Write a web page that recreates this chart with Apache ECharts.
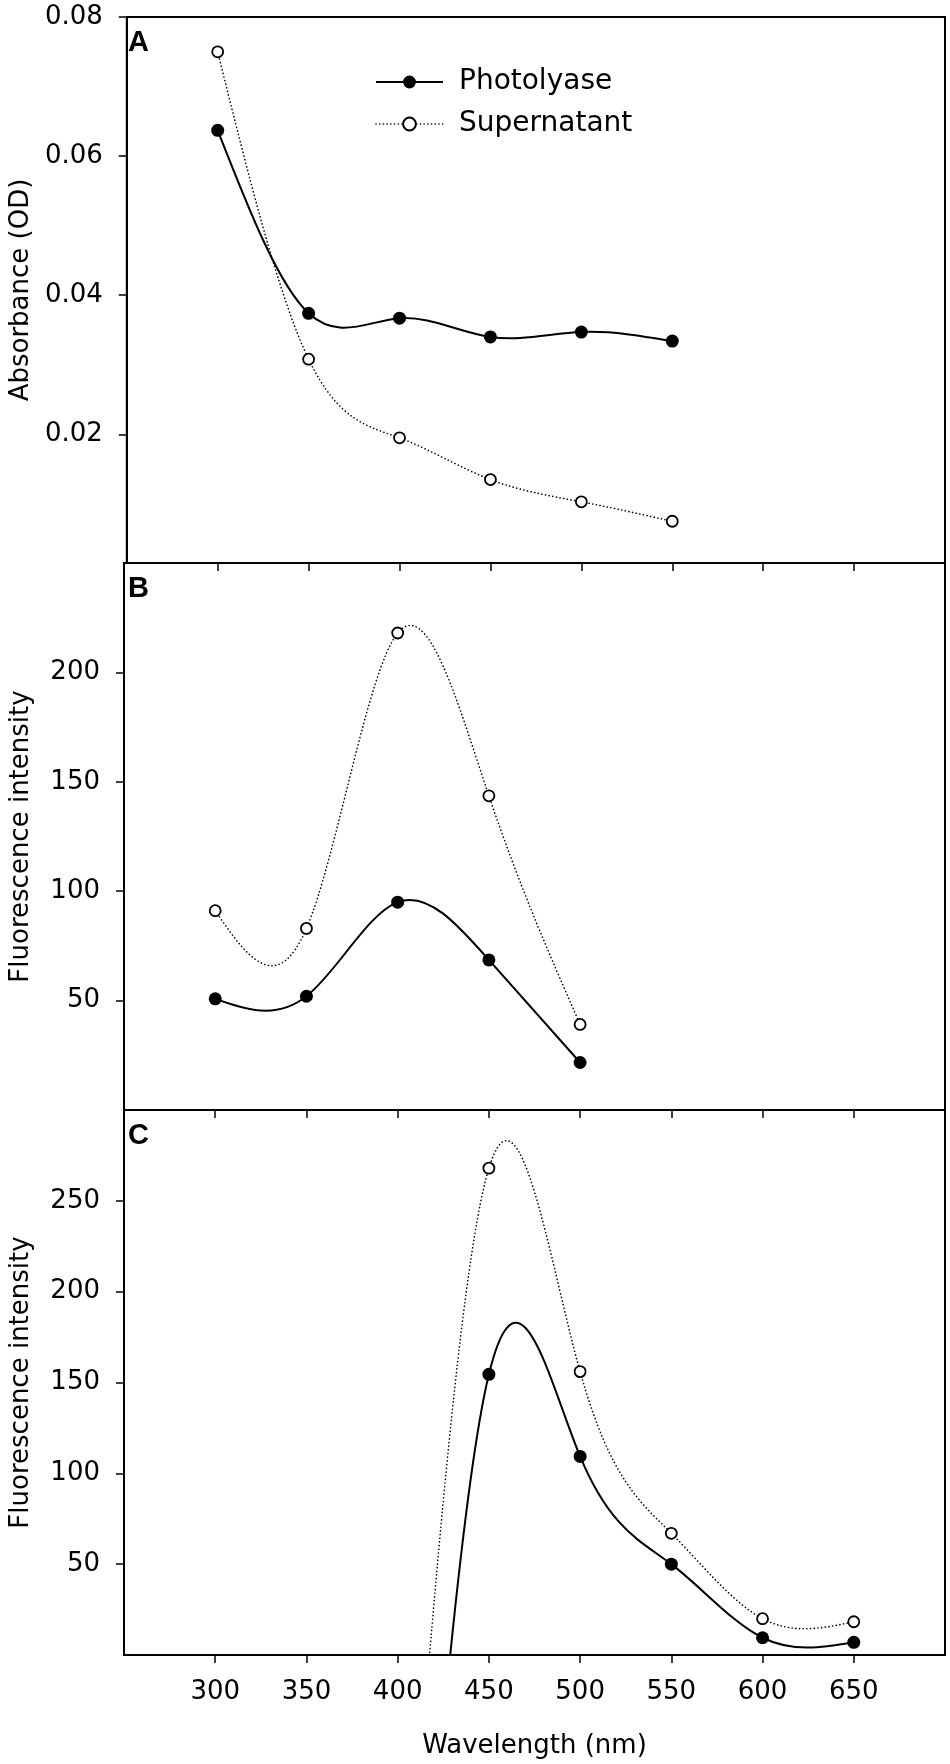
<!DOCTYPE html>
<html><head><meta charset="utf-8">
<script src="https://cdn.jsdelivr.net/npm/echarts@6/dist/echarts.min.js"></script>
<style>html,body{margin:0;padding:0;background:#fff}#c{width:950px;height:1764px}</style>
</head><body><div id="c"></div>
<script>
// ---- data ----
const wavelengthA = [300, 350, 400, 450, 500, 550];
const photolyaseA = [0.0637, 0.0374, 0.0367, 0.0340, 0.0347, 0.0334];
const supernatantA = [0.0750, 0.0308, 0.0195, 0.0135, 0.0103, 0.0075];

const wavelengthB = [300, 350, 400, 450, 500];
const photolyaseB = [50.8, 52, 95, 68.6, 21.7];
const supernatantB = [91.1, 83, 218, 143.6, 39.1];

// first point (400 nm) lies below the visible range of panel C (estimated)
const wavelengthC = [400, 450, 500, 550, 600, 650];
const photolyaseC = [-340, 154.5, 109.3, 50, 9.5, 7];
const supernatantC = [-220, 268, 156, 67, 20, 18.3];

const xTicks = [300, 350, 400, 450, 500, 550, 600, 650];
const yTicksA = [0.02, 0.04, 0.06, 0.08];
const yTicksB = [50, 100, 150, 200];
const yTicksC = [50, 100, 150, 200, 250];
const panelLetters = ['A', 'B', 'C'];
const seriesNames = ['Photolyase', 'Supernatant'];

// ---- spline curve helper (natural cubic spline, drawn as Bezier segments via the axes) ----
function splineSecondDerivs(xs, ys) {
  const n = xs.length;
  const M = new Array(n).fill(0);
  if (n < 3) return M;
  const a = [], b = [], c = [], d = [];
  for (let i = 1; i < n - 1; i++) {
    const h0 = xs[i] - xs[i - 1], h1 = xs[i + 1] - xs[i];
    a.push(h0); b.push(2 * (h0 + h1)); c.push(h1);
    d.push(6 * ((ys[i + 1] - ys[i]) / h1 - (ys[i] - ys[i - 1]) / h0));
  }
  const m = b.length, cp = [], dp = [];
  cp[0] = c[0] / b[0]; dp[0] = d[0] / b[0];
  for (let i = 1; i < m; i++) {
    const den = b[i] - a[i] * cp[i - 1];
    cp[i] = c[i] / den; dp[i] = (d[i] - a[i] * dp[i - 1]) / den;
  }
  const sol = [];
  sol[m - 1] = dp[m - 1];
  for (let i = m - 2; i >= 0; i--) sol[i] = dp[i] - cp[i] * sol[i + 1];
  for (let i = 0; i < m; i++) M[i + 1] = sol[i];
  return M;
}
function curveRenderer(xs, ys, lineWidth, lineDash) {
  const M = splineSecondDerivs(xs, ys);
  return function (params, api) {
    if (params.dataIndex !== 0) return null;
    const p0 = api.coord([xs[0], ys[0]]);
    let d = 'M' + p0[0] + ' ' + p0[1];
    for (let i = 0; i < xs.length - 1; i++) {
      const h = xs[i + 1] - xs[i];
      const s = (ys[i + 1] - ys[i]) / h;
      const d0 = s - h * (2 * M[i] + M[i + 1]) / 6;
      const d1 = s + h * (M[i] + 2 * M[i + 1]) / 6;
      const c1 = api.coord([xs[i] + h / 3, ys[i] + d0 * h / 3]);
      const c2 = api.coord([xs[i + 1] - h / 3, ys[i + 1] - d1 * h / 3]);
      const e = api.coord([xs[i + 1], ys[i + 1]]);
      d += ' C' + c1[0] + ' ' + c1[1] + ' ' + c2[0] + ' ' + c2[1] + ' ' + e[0] + ' ' + e[1];
    }
    return {type: 'path', silent: true, shape: {pathData: d},
      style: {fill: 'none', stroke: '#000', lineWidth: lineWidth, lineDash: lineDash, lineCap: 'round'}};
  };
}

// ---- layout ----
const FONT = 'DejaVu Sans';
const DOTS = [0.1, 3.6];
const panels = [
  {top: 17, height: 546, min: 0.0015, max: 0.08, ticks: yTicksA, name: 'Absorbance (OD)', fmt: v => v.toFixed(2),
   x: wavelengthA, ph: photolyaseA, su: supernatantA},
  {top: 563, height: 547, min: 0, max: 250, ticks: yTicksB, name: 'Fluorescence intensity', fmt: v => String(v),
   x: wavelengthB, ph: photolyaseB, su: supernatantB},
  {top: 1110, height: 545, min: 0, max: 300, ticks: yTicksC, name: 'Fluorescence intensity', fmt: v => String(v),
   x: wavelengthC, ph: photolyaseC, su: supernatantC}
];

const grid = [], xAxis = [], yAxis = [], series = [], title = [];
panels.forEach((p, i) => {
  grid.push({left: 124, right: 5, top: p.top, height: p.height, show: true,
    borderColor: '#000', borderWidth: 2, backgroundColor: 'transparent', containLabel: false});
  const last = i === panels.length - 1;
  xAxis.push({type: 'value', gridIndex: i, min: 250, max: 700,
    name: last ? 'Wavelength (nm)' : '', nameLocation: 'middle', nameGap: 78,
    nameTextStyle: {fontFamily: FONT, fontSize: 26, color: '#000'},
    axisLine: {show: true, onZero: false, lineStyle: {color: '#000', width: 2}},
    axisTick: {show: true, inside: false, length: 8, customValues: xTicks, lineStyle: {color: '#000', width: 1.5}},
    axisLabel: {show: last, customValues: xTicks, margin: 24, fontFamily: FONT, fontSize: 26, color: '#000'},
    splitLine: {show: false}});
  yAxis.push({type: 'value', gridIndex: i, min: p.min, max: p.max,
    name: p.name, nameLocation: 'middle', nameGap: 90, nameRotate: 90,
    nameTextStyle: {fontFamily: FONT, fontSize: 26, color: '#000'},
    axisLine: {show: true, onZero: false, lineStyle: {color: '#000', width: 2}},
    axisTick: {show: true, inside: false, length: 8, customValues: p.ticks, lineStyle: {color: '#000', width: 1.5}},
    axisLabel: {show: true, customValues: p.ticks, margin: 24, fontFamily: FONT, fontSize: 26, color: '#000', formatter: p.fmt},
    splitLine: {show: false}});

  const phData = p.x.map((w, k) => [w, p.ph[k]]);
  const suData = p.x.map((w, k) => [w, p.su[k]]);
  const visibleSymbol = (val) => (val[1] < p.min ? 'none' : 'circle');

  // spline curves
  series.push({type: 'custom', name: seriesNames[0] + ' curve', xAxisIndex: i, yAxisIndex: i, clip: true,
    data: phData, encode: {x: 0, y: 1}, renderItem: curveRenderer(p.x, p.ph, 2, null), z: 2});
  series.push({type: 'custom', name: seriesNames[1] + ' curve', xAxisIndex: i, yAxisIndex: i, clip: true,
    data: suData, encode: {x: 0, y: 1}, renderItem: curveRenderer(p.x, p.su, 1.6, DOTS), z: 2});

  // data markers
  series.push({type: 'line', name: seriesNames[0], xAxisIndex: i, yAxisIndex: i,
    data: phData, clip: true, symbol: visibleSymbol, symbolSize: 13, showAllSymbol: true,
    lineStyle: {opacity: 0, width: 0},
    itemStyle: {color: '#000', borderColor: '#000', borderWidth: 0}, z: 4});
  series.push({type: 'line', name: seriesNames[1], xAxisIndex: i, yAxisIndex: i,
    data: suData, clip: true, symbol: visibleSymbol, symbolSize: 11, showAllSymbol: true,
    lineStyle: {opacity: 0, width: 0},
    itemStyle: {color: '#fff', borderColor: '#000', borderWidth: 1.8}, z: 4});

  title.push({text: panelLetters[i], left: 128, top: p.top + 11, padding: 0,
    textStyle: {fontFamily: 'Liberation Sans', fontWeight: 'bold', fontSize: 29, color: '#000'}});
});

const chart = echarts.init(document.getElementById('c'), null, {renderer: 'canvas'});
chart.setOption({
  animation: false,
  backgroundColor: '#fff',
  title: title,
  legend: {show: true, orient: 'vertical', left: 370, top: 62, itemWidth: 67, itemHeight: 16, itemGap: 12,
    data: [
      {name: seriesNames[0], lineStyle: {color: '#000', width: 2, opacity: 1, type: 'solid'}},
      {name: seriesNames[1], lineStyle: {color: '#000', width: 1.6, opacity: 1, type: [0.1, 3.6], cap: 'round'}}
    ],
    textStyle: {fontFamily: FONT, fontSize: 28, color: '#000', lineHeight: 30, padding: [0, 0, 0, 11]}},
  grid: grid, xAxis: xAxis, yAxis: yAxis, series: series
});
</script></body></html>
